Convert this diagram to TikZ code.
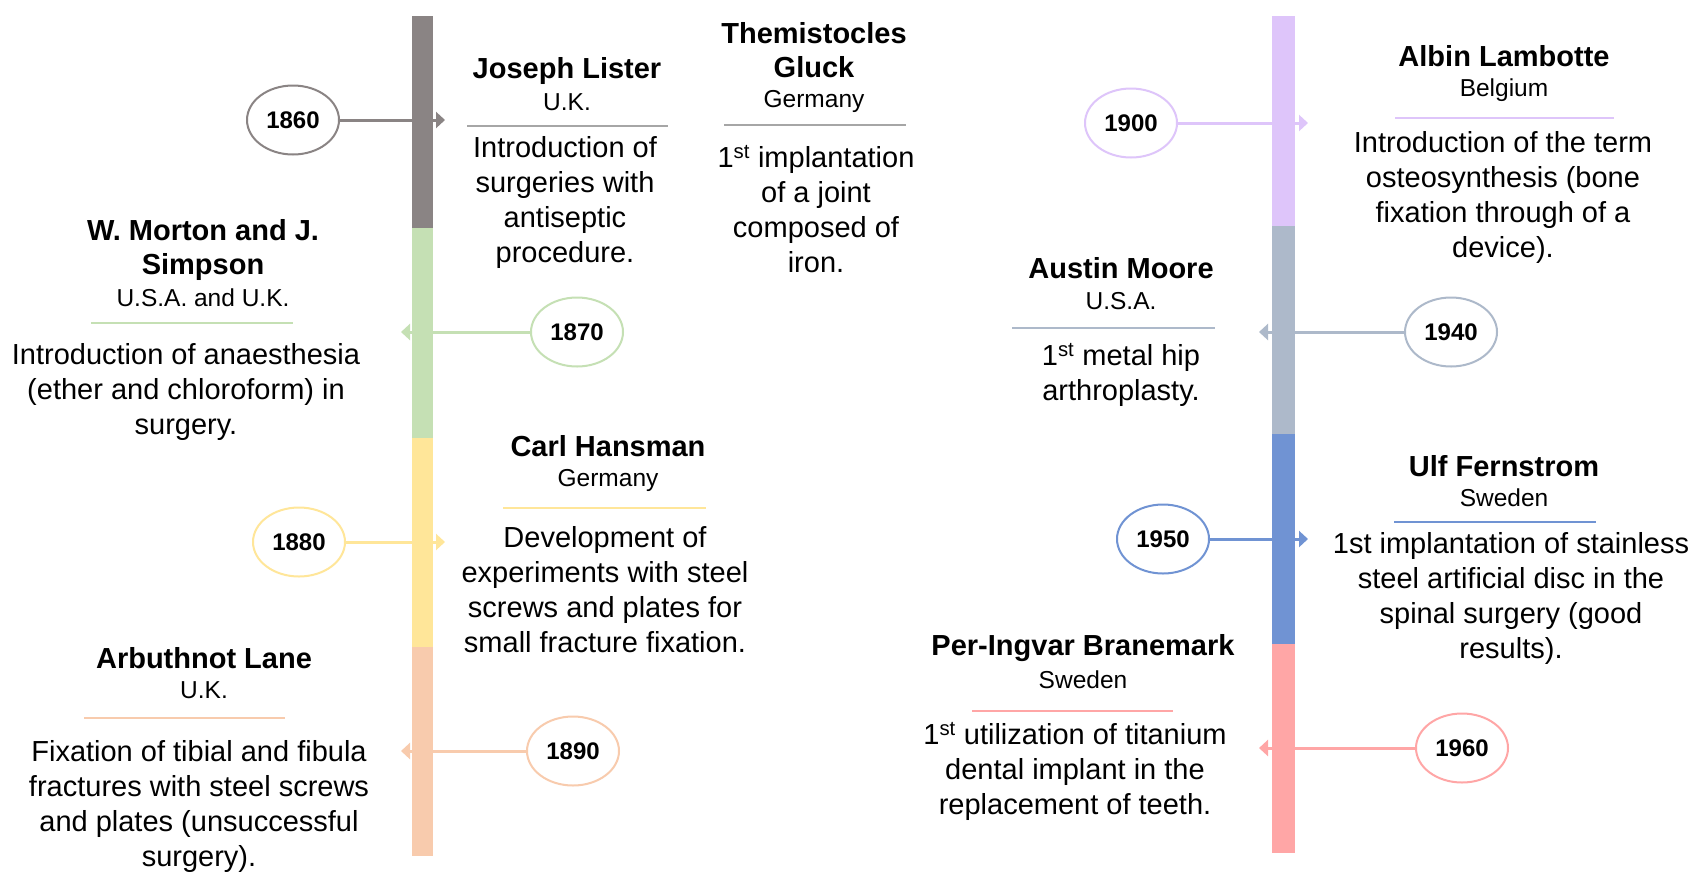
\documentclass[tikz,border=0pt]{standalone}
\usepackage{fontspec}
\setmainfont{Liberation Sans}
\usetikzlibrary{shapes.geometric,arrows.meta}

\definecolor{barGray}{HTML}{8A8484}
\definecolor{ruleGray}{HTML}{A6A6A6}
\definecolor{barGreen}{HTML}{C5E0B4}
\definecolor{barYellow}{HTML}{FFE699}
\definecolor{barPeach}{HTML}{F8CBAD}
\definecolor{barLilac}{HTML}{DEC5FA}
\definecolor{barSlate}{HTML}{ADB9CA}
\definecolor{barBlue}{HTML}{7093D3}
\definecolor{barPink}{HTML}{FFA6A6}

\tikzset{
  yearnode/.style={ellipse, draw=#1, line width=2pt, minimum width=92pt, minimum height=69pt,
    inner sep=0pt, font=\bfseries\fontsize{24}{28}\selectfont},
  namenode/.style={align=center, inner sep=0pt, font=\bfseries\fontsize{29}{34}\selectfont},
  landnode/.style={inner sep=0pt, font=\fontsize{24.5}{29}\selectfont},
  textnode/.style={align=center, inner sep=0pt, font=\fontsize{29}{35}\selectfont},
  link/.style={draw=#1, line width=3pt, -{Triangle[length=9pt,width=16pt]}},
  sepline/.style={draw=#1, line width=1.5pt}
}

\begin{document}
\begin{tikzpicture}[x=1pt,y=-1pt]
    \fill[white] (0,0) rectangle (1702,887);
    \useasboundingbox (0,0) rectangle (1702,887);

    % years and their arrows (drawn under the bars)
    \node[yearnode=barGray] (y1860) at (293,120) {1860};
    \coordinate (t1860) at (445,120);
    \draw[link=barGray] (y1860) -- (t1860);
    \node[yearnode=barGreen] (y1870) at (577,332) {1870};
    \coordinate (t1870) at (401,332);
    \draw[link=barGreen] (y1870) -- (t1870);
    \node[yearnode=barYellow] (y1880) at (299,542) {1880};
    \coordinate (t1880) at (445,542);
    \draw[link=barYellow] (y1880) -- (t1880);
    \node[yearnode=barPeach] (y1890) at (573,751) {1890};
    \coordinate (t1890) at (401,751);
    \draw[link=barPeach] (y1890) -- (t1890);

    \node[yearnode=barLilac] (y1900) at (1131,123) {1900};
    \coordinate (t1900) at (1308,123);
    \draw[link=barLilac] (y1900) -- (t1900);
    \node[yearnode=barSlate] (y1940) at (1451,332) {1940};
    \coordinate (t1940) at (1259,332);
    \draw[link=barSlate] (y1940) -- (t1940);
    \node[yearnode=barBlue] (y1950) at (1163,539) {1950};
    \coordinate (t1950) at (1308,539);
    \draw[link=barBlue] (y1950) -- (t1950);
    \node[yearnode=barPink] (y1960) at (1462,748) {1960};
    \coordinate (t1960) at (1259,748);
    \draw[link=barPink] (y1960) -- (t1960);

    % the two time bars
    \fill[color=barGray] (412,16) rectangle (433,228);
    \fill[color=barGreen] (412,228) rectangle (433,438);
    \fill[color=barYellow] (412,438) rectangle (433,647);
    \fill[color=barPeach] (412,647) rectangle (433,856);
    \fill[color=barLilac] (1272,16) rectangle (1295,226);
    \fill[color=barSlate] (1272,226) rectangle (1295,434);
    \fill[color=barBlue] (1272,434) rectangle (1295,644);
    \fill[color=barPink] (1272,644) rectangle (1295,853);

    % left side events
    \node[namenode] (lister) at (567,71) {Joseph Lister};
    \node[landnode] (listerland) at (567,102) {U.K.};
    \draw[sepline=ruleGray] (467,126) -- (668,126);
    \node[textnode] (listertext) at (565,202) {Introduction of\\surgeries with\\antiseptic\\procedure.};

    \node[namenode] (gluck) at (814,50) {Themistocles\\Gluck};
    \node[landnode] (glucklanded) at (814,101) {Germany};
    \draw[sepline=ruleGray] (724,125) -- (906,125);
    \node[textnode] (glucktext) at (816,209) {1\textsuperscript{st} implantation\\of a joint\\composed of\\iron.};

    \node[namenode] (morton) at (203,250) {W. Morton and J.\\Simpson};
    \node[landnode] (mortonland) at (203,298) {U.S.A. and U.K.};
    \draw[sepline=barGreen] (91,323) -- (293,323);
    \node[textnode] (mortontext) at (186,392) {Introduction of anaesthesia\\(ether and chloroform) in\\surgery.};

    \node[namenode] (hansman) at (608,446) {Carl Hansman};
    \node[landnode] (hansmanland) at (608,480) {Germany};
    \draw[sepline=barYellow] (503,508) -- (706,508);
    \node[textnode] (hansmantext) at (605,590) {Development of\\experiments with steel\\screws and plates for\\small fracture fixation.};

    \node[namenode] (lane) at (204,658) {Arbuthnot Lane};
    \node[landnode] (laneland) at (204,690) {U.K.};
    \draw[sepline=barPeach] (84,718) -- (285,718);
    \node[textnode] (lanetext) at (199,806) {Fixation of tibial and fibula\\fractures with steel screws\\and plates (unsuccessful\\surgery).};

    % right side events
    \node[namenode] (lambotte) at (1504,56) {Albin Lambotte};
    \node[landnode] (lambotteland) at (1504,90) {Belgium};
    \draw[sepline=barLilac] (1395,118) -- (1614,118);
    \node[textnode] (lambottetext) at (1503,197) {Introduction of the term\\osteosynthesis (bone\\fixation through of a\\device).};

    \node[namenode] (moore) at (1121,268) {Austin Moore};
    \node[landnode] (mooreland) at (1121,301) {U.S.A.};
    \draw[sepline=barSlate] (1012,328) -- (1215,328);
    \node[textnode] (mooretext) at (1121,375) {1\textsuperscript{st} metal hip\\arthroplasty.};

    \node[namenode] (fernstrom) at (1504,466) {Ulf Fernstrom};
    \node[landnode] (fernstromland) at (1504,498) {Sweden};
    \draw[sepline=barBlue] (1394,522) -- (1596,522);
    \node[textnode] (fernstromtext) at (1511,598) {1st implantation of stainless\\steel artificial disc in the\\spinal surgery (good\\results).};

    \node[namenode] (branemark) at (1083,648) {Per-Ingvar Branemark};
    \node[landnode] (branemarkland) at (1083,680) {Sweden};
    \draw[sepline=barPink] (972,711) -- (1173,711);
    \node[textnode] (branemarktext) at (1075,771) {1\textsuperscript{st} utilization of titanium\\dental implant in the\\replacement of teeth.};
\end{tikzpicture}
\end{document}
